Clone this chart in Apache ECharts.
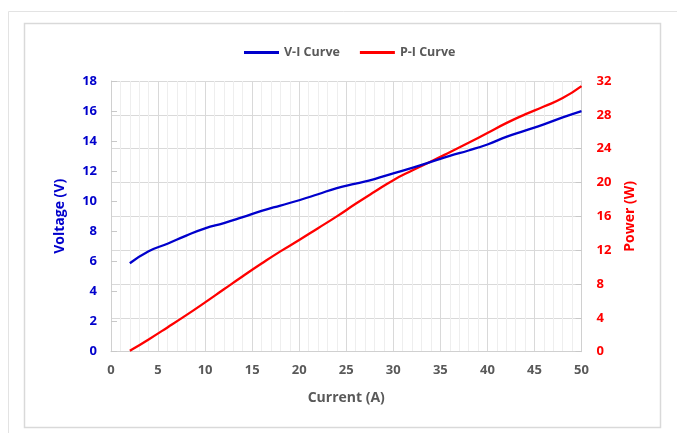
<!DOCTYPE html>
<html>
<head>
<meta charset="utf-8">
<script src="https://cdn.jsdelivr.net/npm/echarts@6/dist/echarts.min.js"></script>
<style>
html,body{margin:0;padding:0;background:#fff;}
#chart{width:677px;height:433px;}
</style>
</head>
<body>
<div id="chart"></div>
<script>
const current = [2,4,6,8,10,12,14,16,18,20,22,24,26,28,30,32,34,36,38,40,42,44,46,48,50];
const voltage = [5.88,6.68,7.18,7.72,8.2,8.55,8.95,9.36,9.72,10.07,10.47,10.88,11.18,11.48,11.86,12.22,12.62,13.02,13.38,13.78,14.28,14.7,15.12,15.58,16.0];
const power = [0.1,1.45,2.87,4.32,5.83,7.38,8.92,10.42,11.86,13.2,14.6,16.0,17.48,18.9,20.28,21.42,22.48,23.58,24.7,25.85,27.02,28.05,28.98,29.98,31.4];
const xTicks = {min:0, max:50, interval:5};
const vTicks = {min:0, max:18, interval:2};
const pTicks = {min:0, max:32, interval:4};

const FONT = 'Open Sans';
const vi = current.map((c,i)=>[c, voltage[i]]);
const pi = current.map((c,i)=>[c, power[i]]);

const chart = echarts.init(document.getElementById('chart'), null, {renderer:'canvas'});
chart.setOption({
  animation:false,
  backgroundColor:'#fff',
  graphic:[
    {type:'rect', shape:{x:8.5,y:11.5,width:720,height:440}, style:{fill:'none',stroke:'#e3e3e3',lineWidth:1}, silent:true, z:-10},
    {type:'rect', shape:{x:24.5,y:23.5,width:636,height:404}, style:{fill:'none',stroke:'#d9d9d9',lineWidth:1.5}, silent:true, z:-10}
  ],
  legend:{
    top:41, left:239,
    itemWidth:35, itemHeight:3, itemGap:20,
    icon:'rect',
    textStyle:{fontFamily:FONT, fontWeight:'bold', fontSize:12.5, color:'#595959'},
    data:['V-I Curve','P-I Curve']
  },
  grid:{left:111, right:95.5, top:81, bottom:81.3, containLabel:false},
  xAxis:{
    type:'value', min:xTicks.min, max:xTicks.max, interval:xTicks.interval,
    name:'Current (A)', nameLocation:'middle', nameGap:39,
    nameTextStyle:{fontFamily:FONT, fontWeight:'bold', fontSize:14, color:'#595959'},
    axisLine:{show:true, lineStyle:{color:'#d0d0d0'}},
    axisTick:{show:false},
    axisLabel:{fontFamily:FONT, fontWeight:'bold', fontSize:13, color:'#595959', margin:12},
    splitLine:{show:true, lineStyle:{color:'#d9d9d9', width:1}},
    minorTick:{show:false, splitNumber:5},
    minorSplitLine:{show:true, lineStyle:{color:'#eeeeee', width:1}}
  },
  yAxis:[
    {
      type:'value', min:vTicks.min, max:vTicks.max, interval:vTicks.interval,
      position:'left',
      name:'Voltage (V)', nameLocation:'middle', nameGap:44, nameRotate:90,
      nameTextStyle:{fontFamily:FONT, fontWeight:'bold', fontSize:14, color:'#0000cc'},
      axisLine:{show:true, lineStyle:{color:'#d0d0d0'}},
      axisTick:{show:true, inside:true, length:6, lineStyle:{color:'#c8c8c8'}},
      axisLabel:{fontFamily:FONT, fontWeight:'bold', fontSize:13, color:'#0000cc', margin:14},
      splitLine:{show:false}
    },
    {
      type:'value', min:pTicks.min, max:pTicks.max, interval:pTicks.interval,
      position:'right',
      name:'Power (W)', nameLocation:'middle', nameGap:42, nameRotate:90,
      nameTextStyle:{fontFamily:FONT, fontWeight:'bold', fontSize:14, color:'#ff0000'},
      axisLine:{show:true, lineStyle:{color:'#d0d0d0'}},
      axisTick:{show:true, inside:true, length:6, lineStyle:{color:'#c8c8c8'}},
      axisLabel:{fontFamily:FONT, fontWeight:'bold', fontSize:13, color:'#ff0000', margin:15},
      splitLine:{show:true, lineStyle:{color:'#d9d9d9', width:1}}
    }
  ],
  series:[
    {name:'V-I Curve', type:'line', yAxisIndex:0, data:vi, smooth:true, showSymbol:false, symbol:'none',
     lineStyle:{color:'#0000cc', width:2.3}, itemStyle:{color:'#0000cc'}, z:3},
    {name:'P-I Curve', type:'line', yAxisIndex:1, data:pi, smooth:true, showSymbol:false, symbol:'none',
     lineStyle:{color:'#ff0000', width:2.3}, itemStyle:{color:'#ff0000'}, z:2}
  ]
});
</script>
</body>
</html>
